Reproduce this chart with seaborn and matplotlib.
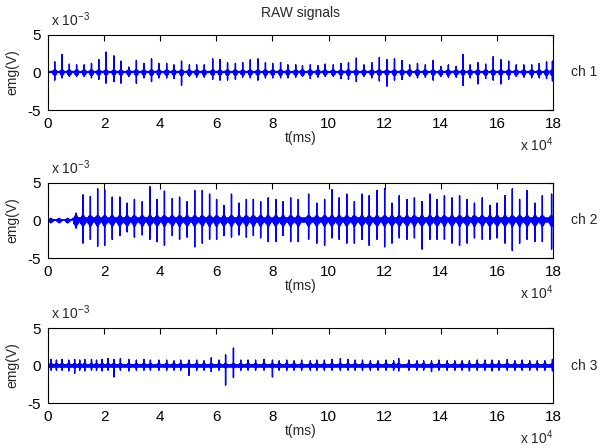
import numpy as np
import pandas as pd
import matplotlib
matplotlib.use("Agg")
import matplotlib.pyplot as plt
import seaborn as sns

# ---------------- data (time in ms, amplitude in units of 1e-3 V) ----------------
ch1_t = [2400, 5000, 7600, 10200, 12900, 15500, 18100, 20700, 23500, 26000, 28800,
         31500, 34200, 36900, 39500, 42300, 44900, 47600, 50400, 53000, 55700, 58700,
         61300, 64000, 66800, 69400, 72100, 74800, 77500, 80100, 82900, 85500, 88300,
         90700, 93500, 96200, 98800, 101700, 104400, 107100, 109900, 112600, 115400,
         118100, 120800, 123500, 126200, 128900, 131700, 134500, 137300, 140000,
         142700, 145500, 147900, 150500, 153200, 156000, 158700, 161400, 164200,
         166900, 169600, 172400, 175100, 177700, 179800]
ch1_pos = [1.4, 2.4, 1.1, 1.0, 1.0, 1.2, 1.7, 2.7, 2.2, 1.5, 0.7, 1.6, 1.2, 1.8, 1.2,
           1.2, 1.0, 1.5, 1.0, 1.0, 1.0, 1.8, 1.7, 1.3, 1.2, 1.3, 1.7, 1.8, 1.3, 1.2,
           1.3, 1.0, 1.0, 0.9, 1.0, 0.9, 1.1, 1.0, 1.2, 1.3, 1.9, 1.0, 1.3, 2.0, 1.7,
           1.8, 1.6, 1.0, 1.2, 1.0, 1.6, 0.8, 1.0, 0.8, 2.4, 1.0, 1.3, 1.1, 2.1, 1.7,
           1.5, 1.0, 1.0, 1.0, 1.2, 1.4, 1.5]
ch1_neg = [-1.0, -0.7, -0.5, -0.5, -0.5, -0.7, -0.9, -1.4, -1.2, -1.4, -0.5, -1.4,
           -0.7, -1.2, -0.7, -0.7, -0.8, -1.7, -0.5, -0.6, -0.6, -0.9, -1.0, -1.0,
           -0.9, -0.6, -0.7, -1.0, -0.7, -0.7, -0.7, -0.7, -0.6, -0.5, -0.8, -0.6,
           -0.5, -0.5, -0.8, -0.9, -1.2, -0.5, -0.7, -1.1, -1.8, -1.0, -0.9, -0.5,
           -0.7, -0.6, -1.0, -0.5, -0.6, -0.6, -1.7, -0.7, -1.5, -0.8, -1.0, -1.5,
           -0.9, -0.5, -0.6, -0.7, -0.7, -0.8, -1.1]

ch2_t = [1000, 4000, 7000, 10000, 12500, 15100, 17700, 20200, 22900, 25600, 28200,
         30800, 33600, 36300, 38900, 41500, 44300, 46900, 49600, 52300, 55000, 57600,
         60100, 62700, 65400, 68100, 70700, 73200, 75800, 78500, 81200, 83800, 86500,
         89200, 92900, 95800, 98600, 101200, 103800, 106500, 109200, 111900, 114500,
         117300, 120000, 122600, 125200, 128000, 130600, 133300, 136100, 138700,
         141300, 144000, 146700, 149400, 152000, 154800, 157500, 160100, 162900,
         165500, 168100, 170800, 173600, 176200, 179500]
ch2_pos = [0.3, 0.3, 0.3, 1.0, 3.4, 3.2, 4.2, 4.1, 3.1, 3.1, 2.3, 2.8, 2.5, 4.5,
           2.8, 3.9, 2.9, 3.1, 2.5, 4.0, 4.0, 3.5, 2.8, 2.0, 3.5, 2.3, 2.8, 2.8, 2.5,
           3.0, 2.8, 2.5, 3.0, 2.8, 3.5, 2.3, 2.8, 4.1, 3.0, 3.5, 2.5, 3.5, 3.3, 4.0,
           4.2, 2.3, 3.3, 2.8, 3.0, 2.5, 3.5, 2.8, 3.3, 3.0, 3.3, 2.8, 2.3, 3.0, 2.0,
           2.3, 3.3, 4.2, 2.8, 4.0, 2.3, 3.3, 3.5]
ch2_neg = [-0.3, -0.3, -0.3, -1.0, -3.0, -2.5, -3.4, -3.3, -2.5, -2.0, -1.5, -2.2,
           -1.9, -2.5, -2.8, -3.3, -2.0, -2.5, -2.2, -3.5, -3.0, -2.5, -2.5, -2.0,
           -2.2, -1.9, -2.2, -2.0, -2.3, -2.8, -2.8, -2.0, -2.8, -2.8, -2.5, -3.0,
           -3.3, -2.3, -2.5, -3.0, -3.0, -2.5, -3.3, -2.5, -3.5, -3.0, -2.3, -2.5,
           -2.3, -3.8, -2.5, -2.5, -2.5, -3.0, -3.3, -3.0, -2.3, -2.5, -2.5, -2.3,
           -3.0, -4.0, -3.0, -2.5, -2.8, -2.8, -3.8]

ch3_t = [1100, 3000, 5000, 7400, 9500, 11300, 13100, 15500, 17300, 19300, 21400,
         23500, 25800, 28800, 31500, 34200, 36500, 39500, 42300, 44900, 47300, 50200,
         53000, 55600, 58200, 61000, 63300, 66100, 68700, 71300, 74000, 77000, 80000,
         82400, 85100, 87700, 90400, 93500, 95800, 98500, 101200, 104200, 106900,
         109500, 112100, 114900, 117600, 120500, 123200, 125000, 128600, 131500,
         133900, 136700, 139300, 142300, 145000, 147600, 150200, 153000, 155700,
         158300, 160700, 163700, 166400, 169000, 171700, 174400, 177100, 179800]
ch3_pos = [0.8, 0.7, 0.8, 0.7, 0.8, 0.7, 0.8, 0.8, 0.7, 0.8, 0.9, 0.8, 0.9, 0.8, 0.7,
           0.8, 0.7, 0.7, 0.7, 0.6, 0.7, 0.7, 0.7, 0.6, 1.0, 0.7, 1.4, 2.3, 0.7, 0.7,
           0.7, 0.8, 0.7, 0.6, 0.7, 0.6, 0.7, 0.6, 0.7, 0.7, 0.8, 0.9, 0.8, 0.7, 0.7,
           0.6, 0.6, 0.7, 0.6, 0.9, 0.7, 0.6, 0.6, 0.6, 0.7, 0.6, 0.6, 0.6, 0.6, 0.7,
           0.7, 0.7, 0.6, 0.8, 0.6, 0.7, 0.6, 0.6, 0.6, 0.8]
ch3_neg = [-0.6, -0.6, -0.6, -0.7, -1.0, -0.6, -0.7, -0.6, -0.6, -0.7, -0.6, -1.5,
           -0.6, -0.7, -0.6, -0.6, -0.6, -0.6, -0.6, -0.6, -0.6, -1.3, -0.6, -0.6,
           -0.8, -0.6, -2.6, -1.6, -0.6, -0.6, -0.6, -0.6, -1.5, -0.6, -0.6, -0.6,
           -0.6, -0.6, -0.6, -0.6, -0.6, -0.6, -0.6, -0.6, -0.6, -0.6, -0.6, -0.6,
           -0.6, -0.7, -0.6, -0.6, -0.6, -0.8, -0.6, -0.6, -0.6, -0.6, -0.7, -0.6,
           -0.6, -0.7, -0.6, -0.6, -0.6, -0.6, -0.6, -0.6, -0.6, -0.7]

channels = ["ch 1", "ch 2", "ch 3"]
x_ticks = [0, 20000, 40000, 60000, 80000, 100000, 120000, 140000, 160000, 180000]
x_tick_labels = ["0", "2", "4", "6", "8", "10", "12", "14", "16", "18"]
y_ticks = [-5, 0, 5]
y_tick_labels = ["-5", "0", "5"]

# ---------------- helpers ----------------
def build_trace(times, pos, neg, blob, half_w, n_zig=8):
    """Turn the spike list into a line path: each spike is a short burst glyph."""
    xs, ys = [0.0], [0.0]
    for t, p, n in zip(times, pos, neg):
        b = min(blob, abs(p))
        offs = np.linspace(-half_w, half_w, n_zig + 1)
        for i, o in enumerate(offs):
            amp = b * (1 - abs(o) / half_w * 0.6)
            sgn = 1 if i % 2 == 0 else -1
            xs.append(t + o)
            ys.append(sgn * amp)
            if i == n_zig // 2:
                xs += [t, t, t]
                ys += [p, n, 0.0]
        xs.append(t + half_w * 1.05)
        ys.append(0.0)
    xs.append(180000.0)
    ys.append(0.0)
    return pd.DataFrame({"t": xs, "v": ys})

sns.set_style("white")
plt.rcParams["font.family"] = ["Liberation Sans", "DejaVu Sans"]
plt.rcParams["mathtext.fontset"] = "custom"
plt.rcParams["mathtext.rm"] = "Liberation Sans"
plt.rcParams["mathtext.it"] = "Liberation Sans"

fig = plt.figure(figsize=(6.03, 4.48), dpi=100)
fig.patch.set_facecolor("white")

left, width, height = 48 / 603, 505 / 603, 75 / 448
bottoms = [1 - 110 / 448, 1 - 258 / 448, 1 - 403 / 448]

# (times, pos, neg, blob amplitude, blob half width, line width, baseline width, band)
specs = [
    (ch1_t, ch1_pos, ch1_neg, 0.45, 700, 1.0, 1.6, None),
    (ch2_t, ch2_pos, ch2_neg, 0.85, 900, 1.0, 1.2, (10000, 180000)),
    (ch3_t, ch3_pos, ch3_neg, 0.35, 600, 1.0, 2.6, None),
]

for i, (t, p, n, blob, hw, lw, blw, band) in enumerate(specs):
    ax = fig.add_axes([left, bottoms[i], width, height])
    base = pd.DataFrame({"t": [0, 180000], "v": [0, 0]})
    sns.lineplot(data=base, x="t", y="v", sort=False, estimator=None,
                 color="#0000ff", lw=blw, ax=ax)
    if band is not None:
        bdf = pd.DataFrame({"t": list(band), "v": [0, 0]})
        sns.lineplot(data=bdf, x="t", y="v", sort=False, estimator=None,
                     color="#0000ff", lw=4.0, ax=ax)
    df = build_trace(t, p, n, blob, hw)
    sns.lineplot(data=df, x="t", y="v", sort=False, estimator=None,
                 color="#0000ff", lw=lw, ax=ax)
    ax.set_xlim(0, 180000)
    ax.set_ylim(-5, 5)
    ax.set_xticks(x_ticks)
    ax.set_xticklabels(x_tick_labels)
    ax.set_yticks(y_ticks)
    ax.set_yticklabels(y_tick_labels)
    ax.tick_params(direction="in", top=True, right=True, length=4, width=0.8,
                   labelsize=11, pad=5, colors="black")
    for s in ax.spines.values():
        s.set_visible(True)
        s.set_color("black")
        s.set_linewidth(0.8)
    ax.set_xlabel("t(ms)", fontsize=10, labelpad=0)
    ax.set_ylabel("emg(V)", fontsize=10, labelpad=6)
    ax.text(0.005, 1.2, r"x 10$^{-3}$", transform=ax.transAxes, fontsize=10,
            ha="left", va="center")
    ax.text(0.935, -0.46, r"x 10$^{4}$", transform=ax.transAxes, fontsize=10,
            ha="left", va="center")
    ax.text(1.035, 0.5, channels[i], transform=ax.transAxes, fontsize=10,
            ha="left", va="center")
    if i == 0:
        ax.set_title("RAW signals", fontsize=10, pad=13)

fig.savefig("out.png", dpi=100, facecolor="white")
